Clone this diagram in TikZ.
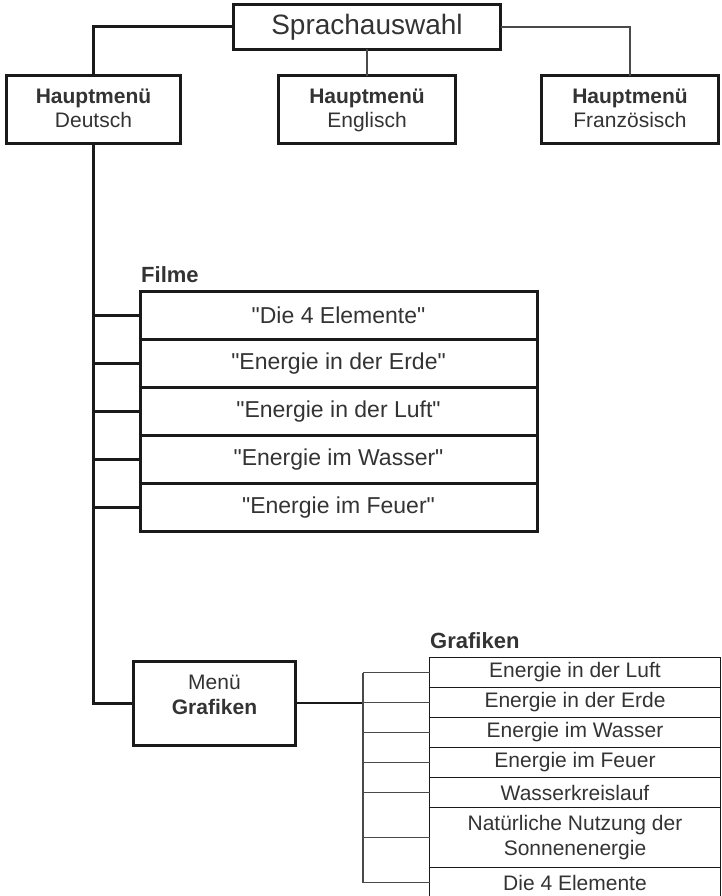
\documentclass[tikz,border=0pt]{standalone}
\usepackage{fontspec}
\setmainfont{Liberation Sans}[Ligatures=TeXOff]
\usetikzlibrary{positioning}
\definecolor{inktext}{HTML}{333333}
\definecolor{inkline}{HTML}{1A1A1A}
\definecolor{inkthin}{HTML}{4A4A4A}

\begin{document}
\begin{tikzpicture}[x=1pt, y=-1pt,
    bigbox/.style={draw=inkline, line width=3pt, outer sep=0pt, text=inktext, align=center, inner sep=0pt},
    filmbox/.style={draw=inkline, line width=3pt, outer sep=0pt, text=inktext, minimum width=397, minimum height=48, inner sep=0pt, font=\fontsize{23}{27}\selectfont},
    listbox/.style={draw=inkline, line width=1.3pt, outer sep=0pt, text=inktext, minimum width=291, minimum height=30, inner sep=0pt, align=center, font=\fontsize{21}{25}\selectfont},
    heading/.style={text=inktext, inner sep=0pt, anchor=base west, font=\fontsize{22}{26}\selectfont\bfseries},
    thickline/.style={draw=inkline, line width=3pt},
    thinline/.style={draw=inkthin, line width=1.2pt}]
    \useasboundingbox (0,0) rectangle (721,896);

    % Language choice with the three main menus
    \node[bigbox, minimum width=267, minimum height=45, font=\fontsize{28}{32}\selectfont] (sprache) at (367,27) {Sprachauswahl};
    \node[bigbox, minimum width=174, minimum height=68, font=\fontsize{21}{24}\selectfont] (deutsch) at (93.5,110) {\textbf{Hauptmenü}\\Deutsch\vphantom{g}};
    \node[bigbox, minimum width=177, minimum height=68, font=\fontsize{21}{24}\selectfont] (englisch) at (367,110) {\textbf{Hauptmenü}\\Englisch};
    \node[bigbox, minimum width=177, minimum height=68, font=\fontsize{21}{24}\selectfont] (franz) at (630,110) {\textbf{Hauptmenü}\\Französisch\vphantom{g}};
    \draw[thickline] (sprache.west) -| (deutsch.north);
    \draw[thinline] (sprache.south) -- (englisch.north);
    \draw[thinline] (sprache.east) -| (franz.north);

    % Films = five stacked rows
    \node[heading] (filmlabel) at (141,282) {Filme};
    \node[filmbox] (film1) at (338.5,315.5) {"Die 4 Elemente"};
    \node[filmbox, below=0pt of film1] (film2) {"Energie in der Erde"};
    \node[filmbox, below=0pt of film2] (film3) {"Energie in der Luft"};
    \node[filmbox, below=0pt of film3] (film4) {"Energie im Wasser"};
    \node[filmbox, below=0pt of film4] (film5) {"Energie im Feuer"};

    % Menu for the graphics, fed by the main trunk
    \node[bigbox, minimum width=162, minimum height=84] (menue) at (214.5,703) {};
    \node[text=inktext, align=center, inner sep=0pt, font=\fontsize{21}{25}\selectfont, yshift=8pt] (menuetext) at (menue.center) {Menü\\\textbf{Grafiken}};
    \draw[thickline] (deutsch.south) |- (menue.west);
    \foreach \i in {1,...,5}
        \draw[thickline] (deutsch.south |- film\i.west) -- (film\i.west);

    % Graphics = list on the right
    \node[heading] (grafiklabel) at (430,648) {Grafiken};
    \node[listbox] (grafik1) at (575,672.5) {Energie in der Luft};
    \node[listbox, below=0pt of grafik1] (grafik2) {Energie in der Erde};
    \node[listbox, below=0pt of grafik2] (grafik3) {Energie im Wasser};
    \node[listbox, below=0pt of grafik3] (grafik4) {Energie im Feuer};
    \node[listbox, below=0pt of grafik4] (grafik5) {Wasserkreislauf};
    \node[listbox, below=0pt of grafik5, minimum height=60] (grafik6) {Natürliche Nutzung der\\Sonnenenergie};
    \node[listbox, below=0pt of grafik6] (grafik7) {Die 4 Elemente};
    \coordinate (gbus) at (363,703);
    \draw[draw=inkline, line width=2pt] (menue.east) -- (menue.east -| gbus);
    \draw[thinline] (grafik1.west -| gbus) -- (grafik7.west -| gbus);
    \foreach \i in {1,...,7}
        \draw[thinline] (grafik\i.west -| gbus) -- (grafik\i.west);
\end{tikzpicture}
\end{document}
